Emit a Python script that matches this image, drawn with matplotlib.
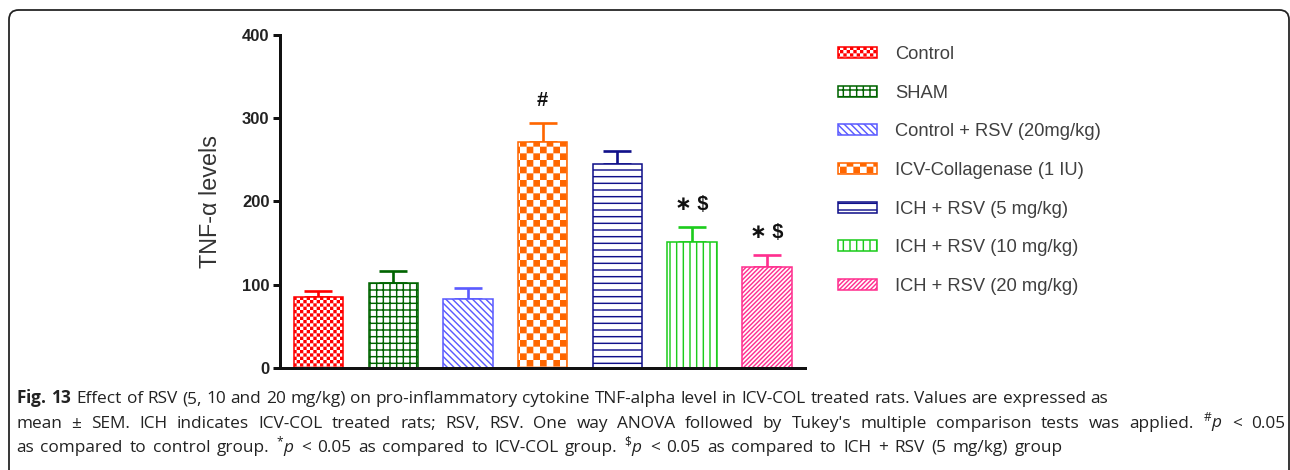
import numpy as np
import matplotlib
matplotlib.use("Agg")
import matplotlib.pyplot as plt
import matplotlib.hatch as mhatch
from matplotlib.path import Path
from matplotlib.patches import FancyBboxPatch

groups = ["Control", "SHAM", "Control + RSV (20mg/kg)", "ICV-Collagenase (1 IU)",
          "ICH + RSV (5 mg/kg)", "ICH + RSV (10 mg/kg)", "ICH + RSV (20 mg/kg)"]
tnf_mean = [86, 102, 83, 271, 245, 151, 121]
tnf_sem = [7, 15, 13, 23, 15, 19, 15]
marks = ["", "", "", "#", "", "\u2217 $", "\u2217 $"]
colors = ["#ff0000", "#006400", "#5b5bff", "#ff6600", "#10108a", "#1ccc1c", "#ff2f8f"]
hatches = ["OOOO", "++", "\\\\\\\\", "OO", "--", "||", "//////"]

caption = [
    r"$\mathbf{Fig.}$ $\mathbf{13}$ Effect of RSV (5, 10 and 20 mg/kg) on pro-inflammatory cytokine TNF-alpha level in ICV-COL treated rats. Values are expressed as",
    r"mean $\pm$ SEM. ICH indicates ICV-COL treated rats; RSV, RSV. One way ANOVA followed by Tukey's multiple comparison tests was applied. $^{\#}p$ < 0.05",
    r"as compared to control group. $^{*}p$ < 0.05 as compared to ICV-COL group. $^{\$}p$ < 0.05 as compared to ICH + RSV (5 mg/kg) group",
]
caption_right = [1108, 1285, 1063]

DPI = 80
HATCH_LW = 1.3


class CheckerHatch(mhatch.HatchPatternBase):
    """Filled checkerboard, one 'O' = 6 cells per hatch unit."""

    def __init__(self, hatch, density):
        self.n = int(hatch.count("O") * density)
        self.cells = [(i, j) for i in range(self.n) for j in range(self.n) if (i + j) % 2 == 0]
        self.num_vertices = 5 * len(self.cells)

    def set_vertices_and_codes(self, vertices, codes):
        step = 1.0 / self.n
        # shrink so the stroke of the hatch brings each square back to full size
        inset = HATCH_LW / 72 / 2
        for k, (i, j) in enumerate(self.cells):
            x0, y0 = i * step + inset, j * step + inset
            x1, y1 = (i + 1) * step - inset, (j + 1) * step - inset
            vertices[5 * k:5 * k + 5] = [(x0, y0), (x1, y0), (x1, y1), (x0, y1), (x0, y0)]
            codes[5 * k:5 * k + 5] = [Path.MOVETO, Path.LINETO, Path.LINETO, Path.LINETO, Path.CLOSEPOLY]


mhatch._hatch_types = [t for t in mhatch._hatch_types if t is not mhatch.LargeCircles] + [CheckerHatch]

plt.rcParams["hatch.linewidth"] = HATCH_LW
plt.rcParams["mathtext.fontset"] = "custom"
plt.rcParams["mathtext.rm"] = "Open Sans"
plt.rcParams["mathtext.it"] = "Open Sans:italic"
plt.rcParams["mathtext.bf"] = "Open Sans:bold"

fig = plt.figure(figsize=(1290 / DPI, 470 / DPI), dpi=DPI)
ax = fig.add_axes([280 / 1290, 101.7 / 470, 525 / 1290, 333.6 / 470])

x = np.arange(len(groups))
bars = ax.bar(x, tnf_mean, width=0.66, color="white", edgecolor=colors,
              linewidth=1.4, zorder=2)
for b, h in zip(bars, hatches):
    b.set_hatch(h)

for xi, m, e, c in zip(x, tnf_mean, tnf_sem, colors):
    ax.errorbar(xi, m, yerr=[[0], [e]], color=c, elinewidth=2.4, capsize=12.5,
                capthick=2.4, zorder=1)

for xi, m, e, s in zip(x, tnf_mean, tnf_sem, marks):
    if s:
        ax.text(xi, m + e + 27, s, ha="center", va="center", fontsize=18,
                fontweight="bold", family=["Liberation Sans", "DejaVu Sans"], color="#111111")

ax.set_xlim(-0.515, 6.51)
ax.set_ylim(0, 400)
ax.set_yticks([0, 100, 200, 300, 400])
ax.set_xticks([])
for side in ["top", "right"]:
    ax.spines[side].set_visible(False)
for side in ["left", "bottom"]:
    ax.spines[side].set_linewidth(2.7)
    ax.spines[side].set_color("#111111")
ax.tick_params(axis="y", length=6.5, width=2.7, pad=3, color="#111111")
for lab in ax.get_yticklabels():
    lab.set_fontfamily("Liberation Sans")
    lab.set_fontweight("bold")
    lab.set_fontsize(15)
    lab.set_color("#222222")

ax.set_ylabel("TNF-\u03b1 levels", family="Liberation Sans", fontsize=21, color="#333333")
ax.yaxis.set_label_coords(-0.11, 0.5)

fig.legend(handles=list(bars), labels=groups, loc="upper left",
           bbox_to_anchor=(838 / 1290, 1 - 46 / 470), frameon=False,
           prop={"family": "Liberation Sans", "size": 16.5},
           labelcolor="#404040", handlelength=2.1, handleheight=0.55,
           handletextpad=1.0, labelspacing=1.18, borderpad=0, borderaxespad=0)

# rounded frame around the figure panel
frame = FancyBboxPatch((9 / DPI, -0.3), (1289 - 9) / DPI, (470 - 10) / DPI + 0.3,
                       boxstyle="round,pad=0,rounding_size=0.12",
                       transform=fig.dpi_scale_trans, facecolor="none",
                       edgecolor="#222222", linewidth=1.6)
fig.add_artist(frame)

# caption, one word at a time so each line can be spread to its right edge
renderer = fig.canvas.get_renderer()
left_px = 16
for i, (line, right_px) in enumerate(zip(caption, caption_right)):
    y = 1 - (403 + 24.5 * i) / 470
    words = [fig.text(0, y, w, ha="left", va="baseline", family="Open Sans",
                      fontsize=15.5, color="#222222") for w in line.split(" ")]
    widths = [t.get_window_extent(renderer).width for t in words]
    gap = (right_px - left_px - sum(widths)) / (len(words) - 1)
    pos = left_px
    for t, w in zip(words, widths):
        t.set_x(pos / 1290)
        pos += w + gap

fig.savefig("out.png", dpi=DPI)
